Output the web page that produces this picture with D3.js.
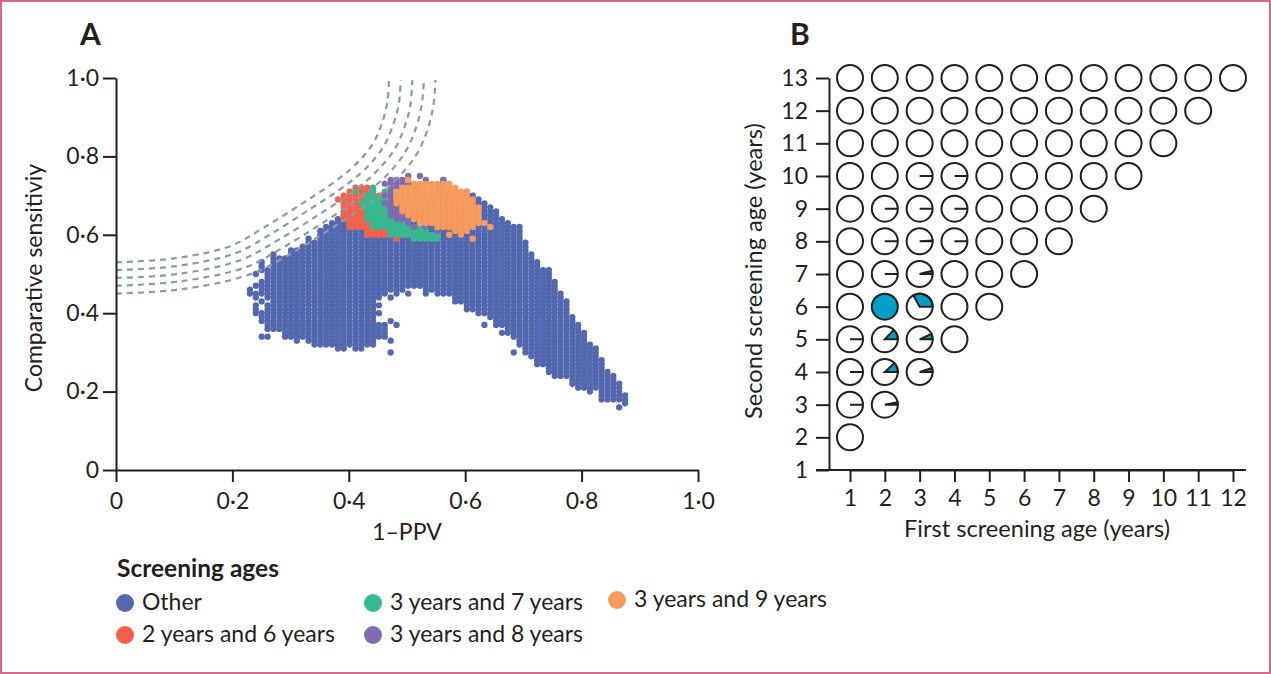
<!DOCTYPE html>
<html lang="en">
<head>
<meta charset="utf-8">
<title>Screening ages</title>
<script src="https://d3js.org/d3.v7.min.js"></script>
<style type="text/css">
html, body { margin: 0; padding: 0; background: #fff; }
svg { display: block; }
text { font-family: Lato, "Open Sans", sans-serif; fill: #231f20; }
.axis path, .axis line { stroke: #231f20; stroke-width: 2px; }
.axis text { font-size: 23px; font-family: Lato, "Open Sans", sans-serif; fill: #231f20; }
.curve { fill: none; stroke: #8b9ba6; stroke-width: 2.2px; stroke-dasharray: 6 5; }
</style>
</head>
<body>
<script type="text/javascript">
"use strict";

var width = 1271, height = 674;

// Panel A: x value of each dot column
var colX = [.2302,.2403,.2503,.2604,.2705,.2806,.2906,.3007,.3108,.3208,.3309,.3410,.3510,.3611,.3712,.3813,.3913,.4014,.4115,.4215,
  .4316,.4417,.4517,.4618,.4719,.4820,.4920,.5021,.5122,.5222,.5323,.5424,.5524,.5625,.5726,.5827,.5927,.6028,.6129,.6229,
  .6330,.6431,.6531,.6632,.6733,.6834,.6934,.7035,.7136,.7236,.7337,.7438,.7538,.7639,.7740,.7841,.7941,.8042,.8143,.8243,
  .8344,.8445,.8545,.8646,.8747];

// runs of dots: [column, lowest y, highest y], y in hundredths
var otherRuns = [
  [0,45,46],[1,50,50],[1,47,47],[1,44,45],[1,40,42],[2,51,53],[2,45,48],[2,43,43],[2,38,40],[2,34,34],
  [3,44,51],[3,36,42],[3,34,34],[4,36,55],[5,36,54],[6,34,54],[7,34,56],[8,33,56],[9,34,57],[10,59,59],
  [10,33,58],[11,32,58],[12,32,61],[13,32,62],[14,32,63],[15,31,64],[16,31,65],[17,32,66],[18,31,68],
  [19,31,68],[20,32,68],[21,32,68],[22,44,68],[22,42,42],[22,40,40],[22,34,37],[23,45,68],[23,34,37],
  [24,46,68],[24,44,44],[24,38,38],[24,33,33],[24,30,30],[25,45,68],[25,37,37],[26,46,68],[27,47,68],
  [27,45,45],[28,47,68],[29,47,68],[30,45,68],[31,46,68],[32,45,70],[33,45,74],[34,45,70],[35,43,70],
  [36,43,70],[37,41,71],[38,41,70],[39,40,69],[40,40,68],[40,37,37],[41,39,67],[42,37,66],[43,37,64],
  [43,35,35],[44,35,63],[45,34,62],[45,30,30],[46,32,62],[47,30,58],[48,29,55],[49,27,53],[50,27,51],
  [51,25,51],[52,24,48],[53,24,45],[54,24,43],[55,22,39],[56,21,37],[57,21,35],[58,20,32],[59,21,31],
  [60,18,28],[61,18,25],[62,18,24],[63,18,22],[63,16,16],[64,17,19]
];
var twoSixRuns = [
  [15,69,69],[16,64,70],[17,62,71],[18,62,72],[19,62,72],[20,60,72],[21,60,71],[22,60,70],[23,60,62],
  [25,59,59],[26,60,60],[27,60,60]
];
var threeSevenRuns = [
  [18,71,71],[19,68,68],[20,64,70],[21,62,72],[22,62,69],[23,62,71],[24,60,65],[25,60,64],[26,60,64],
  [27,60,62],[28,59,61],[29,59,62],[30,59,61],[31,59,60],[32,59,60]
];
var threeEightRuns = [
  [23,73,73],[23,70,70],[23,68,68],[24,65,74],[25,64,74],[26,64,67],[26,72,74],[27,75,75],[27,63,64],
  [27,73,73],[28,73,73],[28,62,62],[29,75,75],[30,74,74],[30,62,62],[32,61,61],[33,73,74],[34,61,61]
];
var threeNineRuns = [
  [25,68,71],[26,66,72],[27,65,72],[27,74,74],[28,64,73],[29,63,73],[30,63,73],[31,63,73],[32,62,73],
  [33,62,73],[34,62,73],[34,60,60],[35,61,72],[36,60,71],[37,61,71],[38,62,69],[38,59,59],[39,63,67],
  [40,63,63],[41,62,62]
];

// dashed curves, [x, y] pairs
var curve0 = [[0,.53],[.1,.54],[.196,.571],[.2526,.617],[.321,.681],[.38,.74],[.416,.786],[.442,.834],[.457,.885],[.466,.936],[.469,.995]];
var curve1 = [[0,.51],[.103,.52],[.205,.553],[.266,.602],[.335,.667],[.395,.727],[.433,.775],[.46,.826],[.476,.88],[.486,.934],[.489,.995]];
var curve2 = [[0,.49],[.106,.5],[.213,.535],[.279,.587],[.349,.652],[.41,.713],[.449,.764],[.479,.819],[.496,.876],[.506,.932],[.509,.995]];
var curve3 = [[0,.47],[.109,.481],[.222,.517],[.292,.572],[.363,.638],[.424,.7],[.466,.753],[.497,.811],[.515,.871],[.525,.929],[.529,.995]];
var curve4 = [[0,.45],[.112,.461],[.23,.499],[.306,.557],[.377,.623],[.439,.686],[.482,.742],[.516,.804],[.535,.867],[.545,.927],[.549,.995]];

var ticksA = [0, .2, .4, .6, .8, 1];

// Panel B: [first age, second age, share], cells not listed are empty circles
var firstAges = [1,2,3,4,5,6,7,8,9,10,11,12];
var secondAges = [1,2,3,4,5,6,7,8,9,10,11,12,13];
var shares = [
  [2,6,1],[3,6,.33],[2,5,.13],[3,5,.07],[2,4,.12],[3,4,.05],[3,7,.04],[2,3,.03],[3,8,.01],
  [1,5,0],[1,4,0],[1,3,0],[2,7,0],[2,8,0],[2,9,0],[3,9,0],[3,10,0],[4,8,0],[4,9,0],[4,10,0]
];

var colOther = "#5468b0", colTwoSix = "#f4614a", colThreeSeven = "#35b98f",
    colThreeEight = "#7e6bb0", colThreeNine = "#f79a5c", colShare = "#00a0c6", ink = "#231f20";

var svg = d3.select("body").append("svg")
    .attr("width", width)
    .attr("height", height);

svg.append("rect")
    .attr("x", 1).attr("y", 1)
    .attr("width", width - 2).attr("height", height - 2)
    .attr("fill", "#fff")
    .attr("stroke", "#d9668c")
    .attr("stroke-width", 2);

function dotted(s) { return s.replace(".", "\u00b7"); }

// ---- panel A
var xA = d3.scaleLinear().domain([0, 1]).range([116, 698]);
var yA = d3.scaleLinear().domain([0, 1]).range([470, 78]);

function drawRuns(runs, color) {
  var pts = [];
  runs.forEach(function(r) {
    d3.range(r[1], r[2] + 1).forEach(function(v) { pts.push([colX[r[0]], v / 100]); });
  });
  svg.append("g").selectAll("circle")
      .data(pts)
      .enter().append("circle")
      .attr("cx", function(d) { return xA(d[0]); })
      .attr("cy", function(d) { return yA(d[1]); })
      .attr("r", 3.15)
      .attr("fill", color);
}

drawRuns(otherRuns, colOther);
drawRuns(twoSixRuns, colTwoSix);
drawRuns(threeSevenRuns, colThreeSeven);
drawRuns(threeEightRuns, colThreeEight);
drawRuns(threeNineRuns, colThreeNine);

var line = d3.line()
    .x(function(d) { return xA(d[0]); })
    .y(function(d) { return yA(d[1]); })
    .curve(d3.curveCatmullRom);

svg.append("g").selectAll("path")
    .data([curve0, curve1, curve2, curve3, curve4])
    .enter().append("path")
    .attr("class", "curve")
    .attr("d", line);

svg.append("g")
    .attr("class", "axis")
    .attr("transform", "translate(0,470)")
    .call(d3.axisBottom(xA).tickValues(ticksA).tickSize(12).tickSizeOuter(0).tickPadding(11)
      .tickFormat(function(d) { return d === 0 ? "0" : dotted(d3.format(".1f")(d)); }));

svg.append("g")
    .attr("class", "axis")
    .attr("transform", "translate(116,0)")
    .call(d3.axisLeft(yA).tickValues(ticksA).tickSize(13).tickSizeOuter(0).tickPadding(4)
      .tickFormat(function(d) { return d === 0 ? "0" : dotted(d3.format(".1f")(d)); }));

svg.append("text").attr("x", 80).attr("y", 45).attr("font-size", 30).attr("font-weight", 700).text("A");
svg.append("text").attr("x", 407).attr("y", 540).attr("text-anchor", "middle").attr("font-size", 23).text("1\u2013PPV");
svg.append("text")
    .attr("transform", "translate(42,278) rotate(-90)")
    .attr("text-anchor", "middle").attr("font-size", 23)
    .text("Comparative sensitiviy");

// ---- panel B
var xB = d3.scaleLinear().domain([1, 12]).range([850, 1233]);
var yB = d3.scaleLinear().domain([1, 13]).range([470, 78]);
var cellR = 13;

var cells = [];
firstAges.forEach(function(f) {
  secondAges.forEach(function(s) {
    if (s > f) cells.push([f, s]);
  });
});

svg.append("g").selectAll("circle")
    .data(cells)
    .enter().append("circle")
    .attr("cx", function(d) { return xB(d[0]); })
    .attr("cy", function(d) { return yB(d[1]); })
    .attr("r", cellR)
    .attr("fill", "#fff");

var arc = d3.arc()
    .innerRadius(0)
    .outerRadius(cellR)
    .startAngle(Math.PI / 2)
    .endAngle(function(d) { return Math.PI / 2 - d[2] * 2 * Math.PI; });

svg.append("g").selectAll("path")
    .data(shares)
    .enter().append("path")
    .attr("transform", function(d) { return "translate(" + xB(d[0]) + "," + yB(d[1]) + ")"; })
    .attr("d", arc)
    .attr("fill", colShare)
    .attr("stroke", function(d) { return d[2] === 1 ? "none" : ink; })
    .attr("stroke-width", 2);

svg.append("g").selectAll("circle")
    .data(cells)
    .enter().append("circle")
    .attr("cx", function(d) { return xB(d[0]); })
    .attr("cy", function(d) { return yB(d[1]); })
    .attr("r", cellR)
    .attr("fill", "none")
    .attr("stroke", ink)
    .attr("stroke-width", 2);

svg.append("g")
    .attr("class", "axis")
    .attr("transform", "translate(0,470)")
    .call(d3.axisBottom(xB).tickValues(firstAges).tickSize(12).tickSizeOuter(0).tickPadding(8)
      .tickFormat(d3.format("d")));
svg.append("line").attr("x1", 816).attr("x2", 1246).attr("y1", 470).attr("y2", 470)
    .attr("stroke", ink).attr("stroke-width", 2);

svg.append("g")
    .attr("class", "axis")
    .attr("transform", "translate(829,0)")
    .call(d3.axisLeft(yB).tickValues(secondAges).tickSize(13).tickSizeOuter(0).tickPadding(8)
      .tickFormat(d3.format("d")));

svg.append("text").attr("x", 790).attr("y", 45).attr("font-size", 30).attr("font-weight", 700).text("B");
svg.append("text").attr("x", 1037).attr("y", 537).attr("text-anchor", "middle").attr("font-size", 23.6)
    .text("First screening age (years)");
svg.append("text")
    .attr("transform", "translate(762,271) rotate(-90)")
    .attr("text-anchor", "middle").attr("font-size", 23.6)
    .text("Second screening age (years)");

// ---- legend
var legendNames = ["Other", "2 years and 6 years", "3 years and 7 years", "3 years and 8 years", "3 years and 9 years"];
var legendColors = [colOther, colTwoSix, colThreeSeven, colThreeEight, colThreeNine];
var legendX = [125, 125, 373, 373, 617];
var legendY = [603, 635, 603, 635, 600];

svg.append("text").attr("x", 117).attr("y", 577).attr("font-size", 24.5).attr("font-weight", 700).text("Screening ages");

legendNames.forEach(function(name, i) {
  svg.append("circle").attr("cx", legendX[i]).attr("cy", legendY[i]).attr("r", 9).attr("fill", legendColors[i]);
  svg.append("text").attr("x", legendX[i] + 17).attr("y", legendY[i] + 7).attr("font-size", 23).text(name);
});
</script>
</body>
</html>
